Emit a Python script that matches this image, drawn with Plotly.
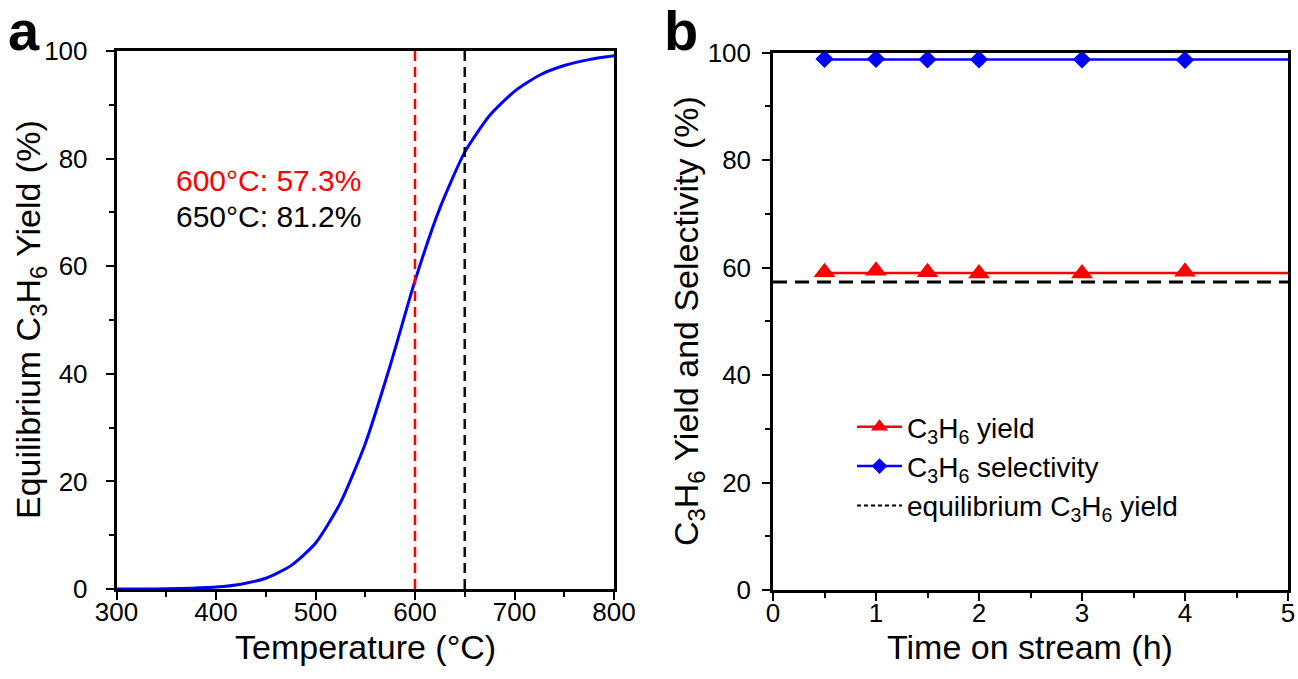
import plotly.graph_objects as go

# ---------------- data ----------------
# Panel a: equilibrium C3H6 yield vs temperature
temp_c = [300, 325, 350, 375, 400, 425, 450, 475, 500, 525, 550, 575,
          600, 625, 650, 675, 700, 725, 750, 775, 800]
eq_yield = [0.0, 0.0, 0.05, 0.15, 0.35, 0.9, 2.0, 4.3, 8.5, 16.0, 27.0, 41.5,
            57.3, 70.8, 81.2, 88.0, 92.5, 95.5, 97.3, 98.4, 99.1]
mark_temps = [600, 650]
mark_colors = ["#FF0000", "#000000"]

# Panel b: time on stream
tos_h = [0.5, 1, 1.5, 2, 3, 4]
c3h6_yield = [59.1, 59.4, 59.1, 58.9, 58.9, 59.2]
c3h6_selectivity = [98.8, 98.8, 98.7, 98.7, 98.7, 98.6]
yield_line_x = [0.5, 5]
yield_line_y = [59.0, 59.0]
sel_line_x = [0.5, 5]
sel_line_y = [98.7, 98.7]
equil_x = [0, 5]
equil_y = [57.3, 57.3]

FONT = "Liberation Sans, Arial, sans-serif"
RED = "#FF0000"
BLUE = "#0000FF"

fig = go.Figure()

# ---- panel a ----
fig.add_trace(go.Scatter(x=temp_c, y=eq_yield, mode="lines",
                         line=dict(color=BLUE, width=3, shape="spline", smoothing=0.6),
                         xaxis="x", yaxis="y", showlegend=False))
for t, c in zip(mark_temps, mark_colors):
    fig.add_trace(go.Scatter(x=[t, t], y=[0, 100], mode="lines",
                             line=dict(color=c, width=2.5, dash="10px,6px"),
                             xaxis="x", yaxis="y", showlegend=False))

# ---- panel b ----
fig.add_trace(go.Scatter(x=equil_x, y=equil_y, mode="lines",
                         line=dict(color="black", width=3, dash="14px,8px"),
                         xaxis="x2", yaxis="y2", showlegend=False))
fig.add_trace(go.Scatter(x=yield_line_x, y=yield_line_y, mode="lines",
                         line=dict(color=RED, width=2.5), xaxis="x2", yaxis="y2", showlegend=False))
fig.add_trace(go.Scatter(x=sel_line_x, y=sel_line_y, mode="lines",
                         line=dict(color=BLUE, width=2.5), xaxis="x2", yaxis="y2", showlegend=False))
fig.add_trace(go.Scatter(x=tos_h, y=c3h6_yield, mode="markers",
                         marker=dict(symbol="triangle-up", size=19, color=RED),
                         xaxis="x2", yaxis="y2", showlegend=False))
fig.add_trace(go.Scatter(x=tos_h, y=c3h6_selectivity, mode="markers",
                         marker=dict(symbol="diamond", size=14, color=BLUE),
                         xaxis="x2", yaxis="y2", showlegend=False))
# legend entries
fig.add_trace(go.Scatter(x=[None], y=[None], mode="lines+markers", name="C<sub>3</sub>H<sub>6</sub> yield",
                         line=dict(color=RED, width=2.5), marker=dict(symbol="triangle-up", size=15, color=RED),
                         xaxis="x2", yaxis="y2"))
fig.add_trace(go.Scatter(x=[None], y=[None], mode="lines+markers", name="C<sub>3</sub>H<sub>6</sub> selectivity",
                         line=dict(color=BLUE, width=2.5), marker=dict(symbol="diamond", size=12, color=BLUE),
                         xaxis="x2", yaxis="y2"))
fig.add_trace(go.Scatter(x=[None], y=[None], mode="lines", name="equilibrium C<sub>3</sub>H<sub>6</sub> yield",
                         line=dict(color="black", width=2, dash="4px,3px"),
                         xaxis="x2", yaxis="y2"))

W, H = 1298, 679

def px_x(p):
    return p / W

def px_y(p):
    return (H - p) / H

axis_common = dict(showline=True, linecolor="black", linewidth=2.5, mirror=True,
                   ticks="outside", ticklen=8, tickwidth=2, tickcolor="black",
                   showgrid=False, zeroline=False, automargin=False,
                   tickfont=dict(family=FONT, size=26, color="black"),
                   layer="below traces")
TITLE_SIZE = 34

def title_ann(text, xp, yp, angle=0):
    return dict(text=text, x=px_x(xp), y=px_y(yp), xref="paper", yref="paper",
                xanchor="center", yanchor="middle", textangle=angle, showarrow=False,
                font=dict(family=FONT, size=TITLE_SIZE, color="black"))

fig.update_layout(
    width=W, height=H,
    margin=dict(l=0, r=0, t=0, b=0, autoexpand=False),
    paper_bgcolor="white", plot_bgcolor="white",
    font=dict(family=FONT, color="black"),
    xaxis=dict(domain=[px_x(116.5), px_x(614)], range=[300, 800], dtick=100, anchor="y",
               minor=dict(dtick=50, ticklen=5, tickwidth=2, tickcolor="black", ticks="outside"),
               ticklabelstandoff=-10,
               **axis_common),
    yaxis=dict(domain=[px_y(589), px_y(51)], range=[0, 100], dtick=20, anchor="x",
               minor=dict(dtick=10, ticklen=5, tickwidth=2, tickcolor="black", ticks="outside"),
               ticklabelstandoff=13,
               **axis_common),
    xaxis2=dict(domain=[px_x(773), px_x(1288)], range=[0, 5], dtick=1, anchor="y2",
                minor=dict(dtick=0.5, ticklen=5, tickwidth=2, tickcolor="black", ticks="outside"),
                ticklabelstandoff=-10,
                **axis_common),
    yaxis2=dict(domain=[px_y(590), px_y(52.5)], range=[0, 100], dtick=20, anchor="x2",
                minor=dict(dtick=10, ticklen=5, tickwidth=2, tickcolor="black", ticks="outside"),
                ticklabelstandoff=6,
                **axis_common),
    legend=dict(x=px_x(852), y=px_y(402), xanchor="left", yanchor="top",
                bgcolor="rgba(0,0,0,0)", font=dict(family=FONT, size=28, color="black"),
                itemwidth=45, tracegroupgap=0),
    annotations=[
        title_ann("Temperature (°C)", 365, 647),
        title_ann("Time on stream (h)", 1030, 647),
        title_ann("Equilibrium C<sub>3</sub>H<sub>6</sub> Yield (%)", 30, 320, -90),
        title_ann("C<sub>3</sub>H<sub>6</sub> Yield and Selectivity (%)", 688, 321, -90),
        dict(text="600°C: 57.3%", x=358, y=76.0, xref="x", yref="y", xanchor="left", yanchor="middle",
             showarrow=False, font=dict(family=FONT, size=30, color=RED)),
        dict(text="650°C: 81.2%", x=358, y=69.3, xref="x", yref="y", xanchor="left", yanchor="middle",
             showarrow=False, font=dict(family=FONT, size=30, color="black")),
        dict(text="<b>a</b>", x=px_x(6), y=px_y(52), xref="paper", yref="paper", xanchor="left", yanchor="bottom",
             showarrow=False, font=dict(family=FONT, size=56, color="black"), yshift=-12),
        dict(text="<b>b</b>", x=px_x(662), y=px_y(52), xref="paper", yref="paper", xanchor="left", yanchor="bottom",
             showarrow=False, font=dict(family=FONT, size=56, color="black"), yshift=-12),
    ],
)

fig.write_html("out.html")
